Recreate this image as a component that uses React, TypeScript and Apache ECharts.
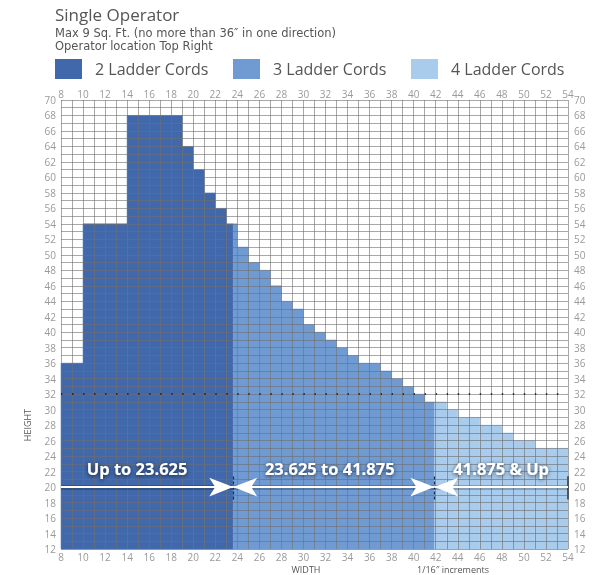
import React, { useEffect, useRef } from 'react';
import * as echarts from 'echarts';

// Step widths (start of each band, inches) and the max height for that band
const stepStarts = [8, 10, 14, 19, 20, 21, 22, 23, 24, 25, 26, 27, 28, 29, 30, 31, 32, 33, 34, 35, 37, 38, 39, 40, 41, 43, 44, 46, 48, 49, 51];
const stepHeights = [36, 54, 68, 64, 61, 58, 56, 54, 51, 49, 48, 46, 44, 43, 41, 40, 39, 38, 37, 36, 35, 34, 33, 32, 31, 30, 29, 28, 27, 26, 25];
const widthMin = 8;
const widthMax = 54;
const heightMin = 12;
const heightMax = 70;

const tierNames = ['2 Ladder Cords', '3 Ladder Cords', '4 Ladder Cords'];
const tierBounds = [8, 23.625, 41.875, 54];
const tierLabels = ['Up to 23.625', '23.625 to 41.875', '41.875 & Up'];
const tierColors = ['#4168aa', '#709ad2', '#a9cbec'];

const refLineHeight = 32;
const arrowHeight = 20;

const FONT = '"Open Sans", sans-serif';

function tierData(a: number, b: number) {
  const out: number[][] = [];
  for (let i = 0; i < stepStarts.length; i++) {
    const s = stepStarts[i];
    const e = i + 1 < stepStarts.length ? stepStarts[i + 1] : widthMax;
    const lo = Math.max(s, a);
    const hi = Math.min(e, b);
    if (hi > lo) out.push([lo, hi, stepHeights[i]]);
  }
  return out;
}

export default function App() {
  const ref = useRef<HTMLDivElement>(null);
  useEffect(() => {
    if (!ref.current) return;
    const chart = echarts.init(ref.current, undefined, { renderer: 'svg' });
    const gridColor = 'rgba(110,110,110,0.6)';
    const labelStyle = { color: '#9a9a9a', fontSize: 10, fontFamily: FONT };
    const evenOnly = (v: number) => (v % 2 === 0 ? String(v) : '');

    const tierSeries = tierNames.map((name, i) => {
      const color = tierColors[i];
      return {
        type: 'custom',
        name,
        z: 2,
        itemStyle: { color },
        encode: { x: [0, 1], y: 2 },
        data: tierData(tierBounds[i], tierBounds[i + 1]),
        renderItem: (params: any, api: any) => {
          const p0 = api.coord([api.value(0), api.value(2)]);
          const p1 = api.coord([api.value(1), heightMin]);
          return {
            type: 'rect',
            shape: { x: p0[0], y: p0[1], width: p1[0] - p0[0], height: p1[1] - p0[1] },
            style: { fill: color, stroke: color, lineWidth: 0.5 },
          };
        },
      };
    });

    const labelOffsets = [[-10, 0], [-4, 0], [0, 0]];
    const arrowSize = [14, 24];

    // soft dark underlay that imitates the arrows' drop shadow
    const arrowShadow = [
      { coord: [widthMin, arrowHeight], symbol: 'none', lineStyle: { color: 'rgba(0,0,0,0.22)', width: 5, type: 'solid' }, label: { show: false } },
      { coord: [widthMax, arrowHeight], symbol: 'none' },
    ];

    const arrowLines = tierLabels.map((lab, i) => [
      {
        coord: [tierBounds[i], arrowHeight],
        symbol: i === 0 ? 'none' : 'arrow',
        symbolSize: arrowSize,
        lineStyle: { color: '#ffffff', width: 2, type: 'solid' },
        itemStyle: { color: '#ffffff', shadowColor: 'rgba(0,0,0,0.5)', shadowBlur: 3, shadowOffsetY: 1 },
        label: {
          show: true,
          formatter: lab,
          position: 'insideMiddleTop',
          distance: 10,
          offset: labelOffsets[i],
          color: '#ffffff',
          fontSize: 16.5,
          fontWeight: 'bold',
          fontFamily: FONT,
          textShadowColor: 'rgba(0,0,0,0.7)',
          textShadowBlur: 4,
          textShadowOffsetY: 1,
        },
      },
      {
        coord: [tierBounds[i + 1], arrowHeight],
        symbol: i === tierLabels.length - 1 ? 'none' : 'arrow',
        symbolSize: arrowSize,
      },
    ]);

    const boundaryTicks = [tierBounds[1], tierBounds[2]].map((x) => [
      { coord: [x, 18.4], symbol: 'none', lineStyle: { color: '#1c2b52', width: 1.2, type: [3, 2] }, label: { show: false } },
      { coord: [x, 21.4], symbol: 'none' },
    ]);

    const edgeTick = [
      { coord: [widthMax, 18.4], symbol: 'none', lineStyle: { color: '#555', width: 2, type: 'solid' }, label: { show: false } },
      { coord: [widthMax, 21.4], symbol: 'none' },
    ];

    const dottedLine = [
      {
        coord: [widthMin, refLineHeight],
        symbol: 'none',
        lineStyle: { color: '#111', width: 1.5, type: [1.4, 9.62] },
        label: { show: false },
      },
      { coord: [widthMax, refLineHeight], symbol: 'none' },
    ];

    const option: any = {
      animation: false,
      grid: { left: 61, right: 33, top: 100, bottom: 26 },
      legend: tierNames.map((n, i) => ({
        data: [n],
        left: [50, 228, 406][i],
        top: 54,
        icon: 'rect',
        itemWidth: 27,
        itemHeight: 20,
        selectedMode: false,
        textStyle: { fontSize: 16, color: '#555', fontFamily: FONT, padding: [0, 0, 0, 8] },
      })),
      xAxis: [
        {
          type: 'value', min: widthMin, max: widthMax, interval: 1, position: 'bottom', z: 3,
          axisLine: { show: false }, axisTick: { show: false },
          axisLabel: { ...labelStyle, formatter: evenOnly, margin: 3 },
          splitLine: { show: true, lineStyle: { color: gridColor, width: 1 } },
        },
        {
          type: 'value', min: widthMin, max: widthMax, interval: 1, position: 'top', z: 3,
          axisLine: { show: false }, axisTick: { show: false },
          axisLabel: { ...labelStyle, formatter: evenOnly, margin: 1 },
          splitLine: { show: false },
        },
      ],
      yAxis: [
        {
          type: 'value', min: heightMin, max: heightMax, interval: 1, position: 'left', z: 3,
          axisLine: { show: false }, axisTick: { show: false },
          axisLabel: { ...labelStyle, formatter: evenOnly, margin: 5 },
          splitLine: { show: true, lineStyle: { color: gridColor, width: 1 } },
        },
        {
          type: 'value', min: heightMin, max: heightMax, interval: 1, position: 'right', z: 3,
          axisLine: { show: false }, axisTick: { show: false },
          axisLabel: { ...labelStyle, formatter: evenOnly, margin: 6 },
          splitLine: { show: false },
        },
      ],
      series: [
        ...tierSeries,
        {
          type: 'line',
          name: 'annotations',
          data: [],
          z: 10,
          silent: true,
          markLine: {
            silent: true,
            z: 10,
            animation: false,
            symbol: 'none',
            label: { show: false },
            data: [dottedLine, ...boundaryTicks, edgeTick, arrowShadow, ...arrowLines],
          },
        },
      ],
      graphic: [
        { type: 'text', left: 55, top: 6, style: { text: 'Single Operator', fontSize: 17, fill: '#555', fontFamily: FONT } },
        {
          type: 'text', left: 55, top: 27,
          style: { text: 'Max 9 Sq. Ft. (no more than 36\u2033 in one direction)', fontSize: 11.5, fill: '#555', fontFamily: '"DejaVu Sans", sans-serif' },
        },
        {
          type: 'text', left: 55, top: 40,
          style: { text: 'Operator location Top Right', fontSize: 11.5, fill: '#555', fontFamily: '"DejaVu Sans", sans-serif' },
        },
        { type: 'text', x: 27, y: 425, rotation: Math.PI / 2, style: { text: 'HEIGHT', fontSize: 9, fill: '#555', fontFamily: FONT, align: 'center', verticalAlign: 'middle' } },
        { type: 'text', x: 306, y: 569, style: { text: 'WIDTH', fontSize: 9, fill: '#555', fontFamily: FONT, align: 'center', verticalAlign: 'middle' } },
        { type: 'text', x: 453, y: 569, style: { text: '1/16\u2033 increments', fontSize: 9, fill: '#555', fontFamily: FONT, align: 'center', verticalAlign: 'middle' } },
      ],
    };
    chart.setOption(option);
    return () => chart.dispose();
  }, []);
  return <div ref={ref} style={{ position: 'fixed', left: 0, top: 0, width: 601, height: 575 }} />;
}
